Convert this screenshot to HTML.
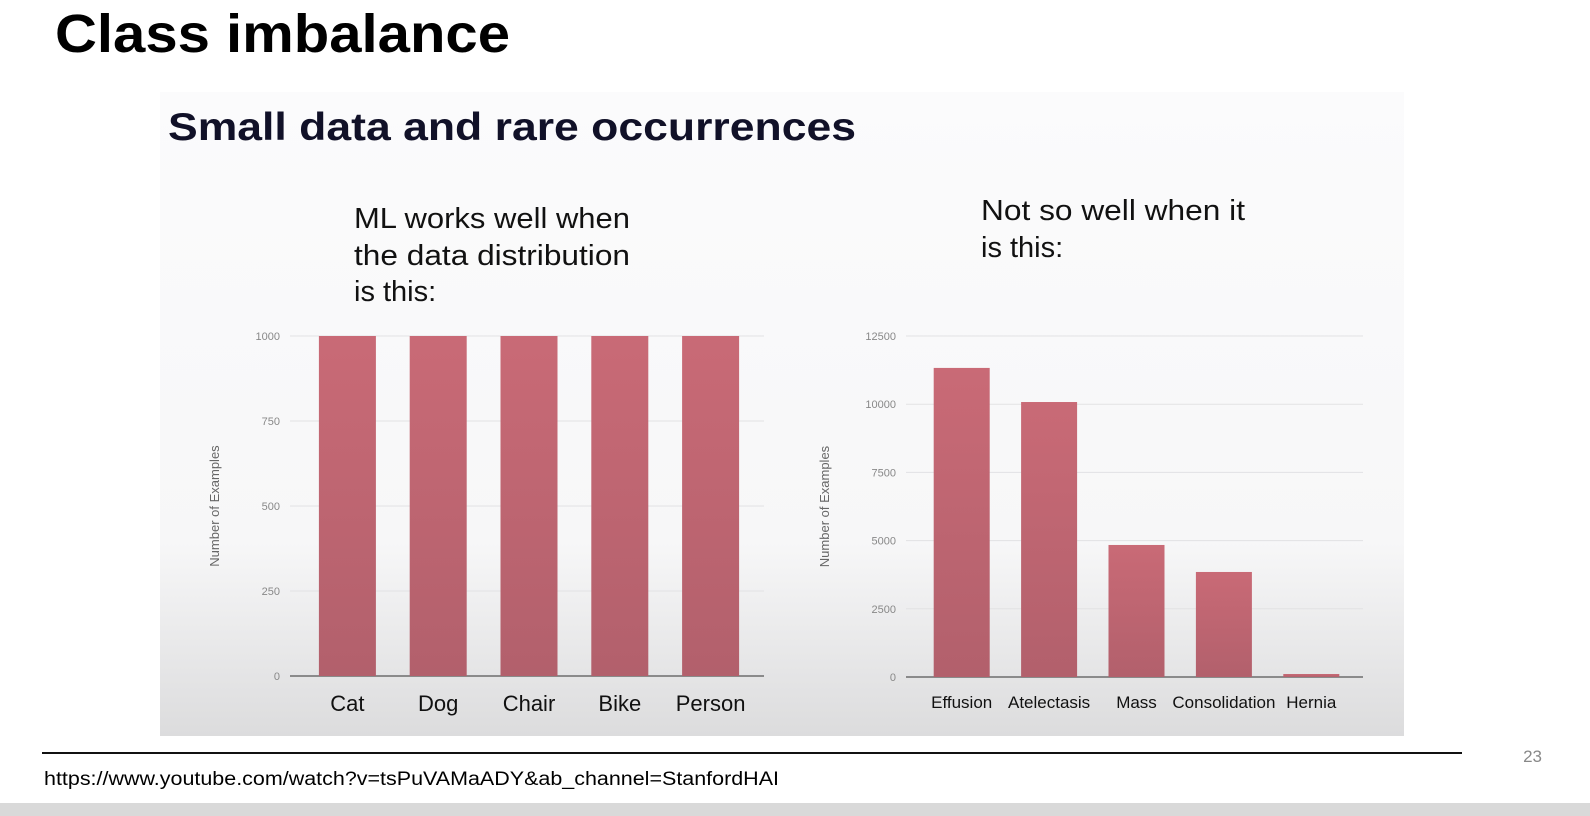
<!DOCTYPE html>
<html><head><meta charset="utf-8"><style>
html,body{margin:0;padding:0;background:#fff;}
svg{display:block;font-family:"Liberation Sans",Arial,sans-serif;}
</style></head><body>
<svg id="s" width="1590" height="816" viewBox="0 0 1590 816">
<defs>
<linearGradient id="bg" x1="0" y1="0" x2="0" y2="1">
<stop offset="0" stop-color="#fbfbfc"/><stop offset="0.7" stop-color="#f7f7f8"/><stop offset="1" stop-color="#dcdcdd"/>
</linearGradient>
<linearGradient id="bar" x1="0" y1="0" x2="0" y2="1">
<stop offset="0" stop-color="#c96a76"/><stop offset="1" stop-color="#b2606c"/>
</linearGradient>
</defs>
<text x="55" y="52" font-size="54" font-weight="bold" fill="#000" textLength="455" lengthAdjust="spacingAndGlyphs">Class imbalance</text>
<rect x="160" y="92" width="1244" height="644" fill="url(#bg)"/>
<text x="168" y="140" font-size="39" font-weight="bold" fill="#111128" textLength="688" lengthAdjust="spacingAndGlyphs">Small data and rare occurrences</text>
<g font-size="29" fill="#111">
<text x="354" y="228" textLength="276" lengthAdjust="spacingAndGlyphs">ML works well when</text>
<text x="354" y="265" textLength="276" lengthAdjust="spacingAndGlyphs">the data distribution</text>
<text x="354" y="301">is this:</text>
</g>
<g font-size="29" fill="#111">
<text x="981" y="220" textLength="264" lengthAdjust="spacingAndGlyphs">Not so well when it</text>
<text x="981" y="257">is this:</text>
</g>
<g id="c1"></g>
<g id="c2"></g>
<line x1="42" y1="753" x2="1462" y2="753" stroke="#111" stroke-width="2"/>
<text x="1542" y="762" font-size="17" fill="#888" text-anchor="end">23</text>
<text x="44" y="785" font-size="19" fill="#000" textLength="735" lengthAdjust="spacingAndGlyphs">https://www.youtube.com/watch?v=tsPuVAMaADY&amp;ab_channel=StanfordHAI</text>
<rect x="0" y="803" width="1590" height="13" fill="#d9d9d9"/>
</svg>
<script>
const cats1=["Cat","Dog","Chair","Bike","Person"];
const vals1=[1000,1000,1000,1000,1000];
const ticks1=[0,250,500,750,1000];
const cats2=["Effusion","Atelectasis","Mass","Consolidation","Hernia"];
const vals2=[11330,10080,4840,3850,110];
const ticks2=[0,2500,5000,7500,10000,12500];
const NS="http://www.w3.org/2000/svg";
function mk(p,t,a){const e=document.createElementNS(NS,t);for(const k in a)e.setAttribute(k,a[k]);p.appendChild(e);return e;}
function draw(g,cats,vals,ticks,o){
  const max=ticks[ticks.length-1];
  const y=v=>o.y0-(v/max)*(o.y0-o.y1);
  const step=(o.x1-o.x0)/cats.length;
  ticks.forEach((t,i)=>{
    const l=mk(g,'line',{x1:o.gx0,x2:o.x1+8,y1:y(t),y2:y(t),stroke:i==0?'#555':'#e2e2e4','stroke-width':i==0?1.2:1});
    
    
    const tx=mk(g,'text',{x:o.tx,y:y(t)+4,'font-size':11,fill:'#888','text-anchor':'end'});
    tx.textContent=t;
    
    
  });
  cats.forEach((c,i)=>{
    const cx=o.x0+step*(i+0.5);
    const b=mk(g,'rect',{x:cx-o.bw/2,y:y(vals[i]),width:o.bw,height:o.y0-y(vals[i]),fill:'url(#bar)'});
    
    
    const t=mk(g,'text',{x:cx,y:o.ly,'font-size':o.lf,fill:'#111','text-anchor':'middle'});
    t.textContent=c;
    
    
  });
  const yt=mk(g,'text',{x:o.atx,y:(o.y0+o.y1)/2,'font-size':13,fill:'#666','text-anchor':'middle',transform:`rotate(-90 ${o.atx} ${(o.y0+o.y1)/2})`});
  yt.textContent='Number of Examples';
  
  
}
draw(document.getElementById('c1'),cats1,vals1,ticks1,{x0:302,x1:756,y0:676,y1:336,gx0:290,tx:280,bw:57,ly:711,lf:22,atx:219});
draw(document.getElementById('c2'),cats2,vals2,ticks2,{x0:918,x1:1355,y0:677,y1:336,gx0:906,tx:896,bw:56,ly:708,lf:17,atx:829});
</script>
</body></html>
